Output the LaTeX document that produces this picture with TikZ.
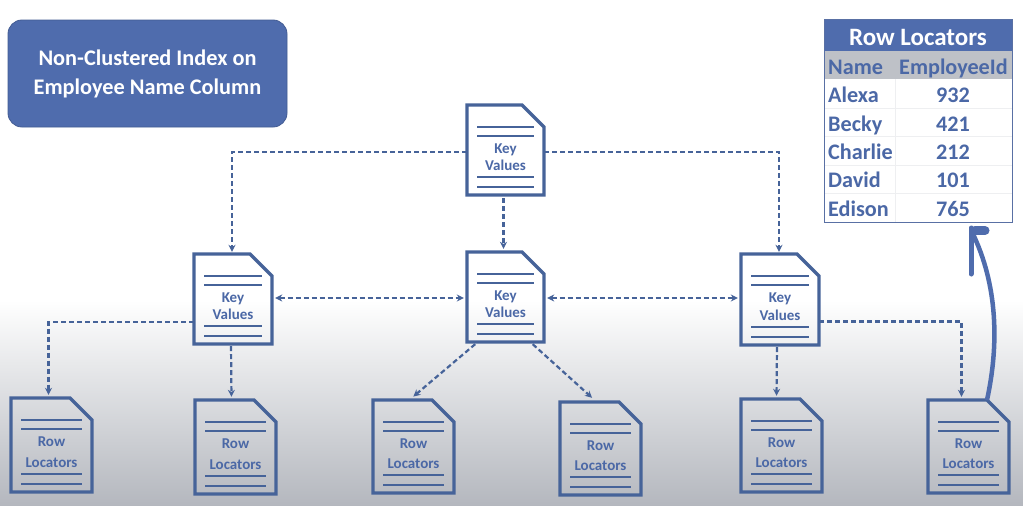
\documentclass[tikz,border=0pt]{standalone}
\usepackage{fontspec}
\setmainfont{Carlito}
\usetikzlibrary{arrows.meta,shadings}
\definecolor{blu}{HTML}{4F6CAD}
\definecolor{dblu}{HTML}{466399}
\definecolor{ink}{HTML}{4B68A6}
\definecolor{hdr}{HTML}{BEC1C7}
\definecolor{grd}{HTML}{EEEFF1}
\definecolor{botg}{HTML}{B4B7BE}
\tikzset{
  x=1pt,y=-1pt,
  docline/.style={draw=dblu,line width=2pt},
  docedge/.style={draw=dblu,line width=3.2pt,line join=miter,fill=none},
  doctext/.style={font=\bfseries\fontsize{15}{18}\selectfont,text=ink,inner sep=0pt,anchor=base},
  link/.style={draw=dblu,line width=2.2pt,dash pattern=on 5pt off 3pt,-{Stealth[length=7pt,width=7pt]}},
  twolink/.style={link,{Stealth[length=7pt,width=7pt]}-{Stealth[length=7pt,width=7pt]}},
  cell/.style={font=\bfseries\fontsize{22.2}{26}\selectfont,text=ink,inner sep=0pt,anchor=base west},
  num/.style={font=\bfseries\fontsize{22.2}{26}\selectfont,text=ink,inner sep=0pt,anchor=base},
}
% name, left, top, width, height, line 1, line 2
\newcommand{\docnode}[7]{%
  \path (#2,#3) coordinate (#1-tl) (#2+#4,#3+#5) coordinate (#1-br);
  \node[inner sep=0pt,minimum width=#4 pt,minimum height=#5 pt] (#1) at (#2+#4/2,#3+#5/2) {};
  \draw[docedge] (#2,#3) -- (#2+#4-22,#3) -- (#2+#4,#3+22) -- (#2+#4,#3+#5) -- (#2,#3+#5) -- cycle;
  \draw[docline] (#2+10,#3+22) -- (#2+#4-10,#3+22);
  \draw[docline] (#2+10,#3+31) -- (#2+#4-10,#3+31);
  \draw[docline] (#2+10,#3+#5-18) -- (#2+#4-10,#3+#5-18);
  \draw[docline] (#2+10,#3+#5-8) -- (#2+#4-10,#3+#5-8);
  \node[doctext] (#1-a) at (#2+#4/2,#3+48) {#6};
  \node[doctext] (#1-b) at (#2+#4/2,#3+#5-24.5) {#7};
}
\begin{document}
\begin{tikzpicture}
\useasboundingbox (0,0) rectangle (1023,506);
\fill[white] (0,0) rectangle (1023,506);
\shade[top color=white,bottom color=botg,shading angle=0] (0,300) rectangle (1023,506);

% title box
\node[draw=blu!85!black,fill=blu,rounded corners=14pt,line width=0.8pt,minimum width=279pt,minimum height=107pt,inner sep=0pt,
  align=center,text=white,font=\bfseries\fontsize{22.3}{29}\selectfont] (title) at (147.5,73.5)
  {Non-Clustered Index on\\Employee Name Column};

% table
\fill[white] (824,19) rectangle (1012,222);
\fill[blu] (824,19) rectangle (1012,51);
\fill[hdr] (824,51) rectangle (1012,79);
\foreach \yy in {108,136,165,193} \draw[grd,line width=1pt] (824,\yy) -- (1012,\yy);
\draw[grd,line width=1pt] (895,79) -- (895,222);
\draw[blu!80!gray,line width=1pt] (824,19) rectangle (1012,222);
\node[font=\bfseries\fontsize{25}{28}\selectfont,text=white,inner sep=0pt] (tt) at (918,37) {Row Locators};
\node[cell] (h1) at (828,74) {Name};
\node[cell] (h2) at (899,74) {EmployeeId};
\node[cell] (c1) at (828,102) {Alexa};
\node[num] (n1) at (953,102) {932};
\node[cell] (c2) at (828,131) {Becky};
\node[num] (n2) at (953,131) {421};
\node[cell] (c3) at (828,159) {Charlie};
\node[num] (n3) at (953,159) {212};
\node[cell] (c4) at (828,187) {David};
\node[num] (n4) at (953,187) {101};
\node[cell] (c5) at (828,216) {Edison};
\node[num] (n5) at (953,216) {765};
\coordinate (tabin) at (972,232);

% documents
\docnode{top}{467}{105}{77}{90}{Key}{Values}
\docnode{lk}{194}{254}{78}{90}{Key}{Values}
\docnode{mk}{467}{252}{77}{90}{Key}{Values}
\docnode{rk}{741}{254}{78}{91}{Key}{Values}
\docnode{r1}{11}{398}{81}{94}{Row}{Locators}
\docnode{r2}{195}{400}{81}{94}{Row}{Locators}
\docnode{r3}{373}{400}{81}{93}{Row}{Locators}
\docnode{r4}{560}{402}{81}{93}{Row}{Locators}
\docnode{r5}{741}{399}{81}{93}{Row}{Locators}
\docnode{r6}{928}{400}{81}{93}{Row}{Locators}

% connectors
\draw[link,shorten >=2pt] ([yshift=-2pt]top.west) -| ([xshift=-1pt]lk.north);
\draw[link,shorten >=2pt] ([yshift=-2pt]top.east) -| ([xshift=-1pt]rk.north);
\draw[link,shorten >=3pt,shorten <=3pt] ([xshift=-2pt]top.south) -- ([xshift=-2pt]mk.north);
\draw[twolink,shorten >=3pt,shorten <=3pt] ([yshift=1pt]lk.east) -- ([yshift=-1pt]mk.west);
\draw[twolink,shorten >=3pt,shorten <=3pt] ([yshift=-1pt]mk.east) -- ([yshift=1.5pt]rk.west);
\draw[link,shorten >=3pt] ([yshift=-23pt]lk.west) -| ([xshift=-3pt]r1.north);
\draw[link,shorten >=3pt,shorten <=2pt] ([xshift=-2pt]lk.south) -- ([xshift=-4pt]r2.north);
\draw[link,shorten >=5pt,shorten <=3pt] ([xshift=-28pt]mk.south) -- ([xshift=-4pt]r3.north);
\draw[link,shorten >=6pt,shorten <=3pt] ([xshift=25pt]mk.south) -- ([xshift=-4pt]r4.north);
\draw[link,shorten >=3pt,shorten <=2pt] ([xshift=-3pt]rk.south) -- ([xshift=-5pt]r5.north);
\draw[link,shorten >=3pt] ([yshift=-22pt]rk.east) -| ([xshift=-7pt]r6.north);

% curved arrow
\coordinate (curvestart) at (987,400);
\draw[blu,line width=4.5pt] (curvestart) .. controls (999,345) and (998,285) .. (tabin);
\draw[blu,line width=5pt,line cap=round] (971,228) -- (971,274);
\draw[blu,line width=9pt,line cap=round,line join=round] (975,230.5) -- (985,230.5);
\end{tikzpicture}
\end{document}
